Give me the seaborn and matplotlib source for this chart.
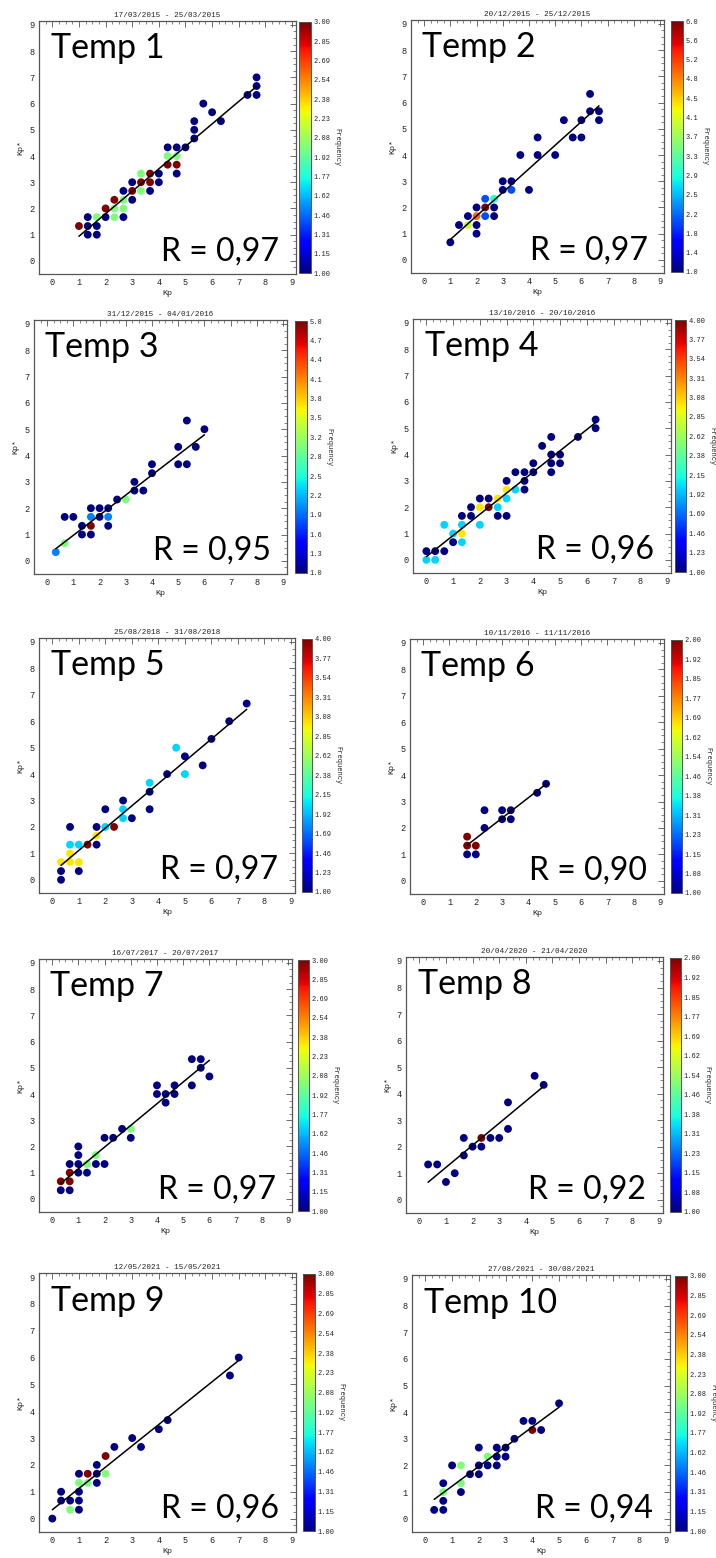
import numpy as np
import pandas as pd
import matplotlib
matplotlib.use("Agg")
import matplotlib.pyplot as plt
import seaborn as sns
from matplotlib.ticker import MultipleLocator
from matplotlib.colors import Normalize
from matplotlib.cm import ScalarMappable

sns.set_theme(style="white")
plt.rcParams["font.family"] = ["Liberation Mono", "DejaVu Sans"]

# ---- Kp vs Kp* per storm period (value, value, occurrence count) ----
t1_kp = [1.0, 1.33, 1.33, 1.33, 1.67, 1.67, 1.67, 2.0, 2.0, 2.33, 2.33, 2.33,
         2.67, 2.67, 2.67, 2.67, 3.0, 3.0, 3.0, 3.33, 3.33, 3.33, 3.67, 3.67, 3.67,
         4.0, 4.0, 4.33, 4.33, 4.33, 4.67, 4.67, 4.67, 4.67, 5.0, 5.33, 5.33, 5.33,
         5.67, 6.0, 6.33, 7.33, 7.67, 7.67, 7.67]
t1_kps = [1.33, 1.67, 1.33, 1.0, 1.67, 1.33, 1.0, 2.0, 1.67, 2.33, 2.0, 1.67,
          2.67, 2.33, 2.0, 1.67, 3.0, 2.67, 2.33, 3.33, 3.0, 2.67, 3.33, 3.0, 2.67,
          3.33, 3.0, 4.33, 4.0, 3.67, 4.33, 4.0, 3.67, 3.33, 4.33, 5.33, 5.0, 4.67,
          6.0, 5.67, 5.33, 6.33, 7.0, 6.67, 6.33]
t1_freq = [3, 1, 1, 1, 2, 1, 1, 3, 1, 3, 2, 2,
           1, 2, 2, 1, 1, 3, 1, 2, 3, 2, 3, 3, 1,
           1, 1, 1, 2, 3, 1, 2, 3, 1, 1, 1, 1, 1,
           1, 1, 1, 1, 1, 1, 1]

t2_kp = [1.0, 1.33, 1.67, 1.67, 2.0, 2.0, 2.0, 2.0, 2.33, 2.33, 2.33, 2.67, 2.67, 2.67,
         3.0, 3.0, 3.33, 3.33, 3.67, 4.0, 4.33, 4.33, 5.0, 5.33, 5.67, 6.0, 6.0,
         6.33, 6.33, 6.67, 6.67]
t2_kps = [0.67, 1.33, 1.67, 1.33, 2.0, 1.67, 1.33, 1.0, 2.33, 2.0, 1.67, 2.33, 2.0, 1.67,
          3.0, 2.67, 3.0, 2.67, 4.0, 2.67, 4.67, 4.0, 4.0, 5.33, 4.67, 5.33, 4.67,
          6.33, 5.67, 5.67, 5.33]
t2_freq = [1, 1, 1, 4, 1, 5, 1, 1, 2, 6, 2, 3, 1, 1,
           1, 1, 1, 2, 1, 1, 1, 1, 1, 1, 1, 1, 1,
           1, 1, 1, 1]

t3_kp = [0.33, 0.67, 0.67, 1.0, 1.33, 1.33, 1.67, 1.67, 1.67, 1.67, 2.0, 2.0,
         2.33, 2.33, 2.33, 2.67, 3.0, 3.33, 3.33, 3.67, 4.0, 4.0, 5.0, 5.0,
         5.33, 5.33, 5.67, 6.0]
t3_kps = [0.33, 0.67, 1.67, 1.67, 1.33, 1.0, 2.0, 1.67, 1.33, 1.0, 2.0, 1.67,
          2.0, 1.67, 1.33, 2.33, 2.33, 3.0, 2.67, 2.67, 3.67, 3.33, 4.33, 3.67,
          5.33, 3.67, 4.33, 5.0]
t3_freq = [2, 3, 1, 1, 1, 1, 1, 2, 5, 1, 1, 1,
           1, 2, 1, 1, 3, 1, 1, 1, 1, 1, 1, 1,
           1, 1, 1, 1]

t4_kp = [0.0, 0.0, 0.33, 0.33, 0.67, 0.67, 1.0, 1.0, 1.33, 1.33, 1.33, 1.33,
         1.67, 1.67, 2.0, 2.0, 2.0, 2.33, 2.33, 2.67, 2.67, 2.67, 3.0, 3.0, 3.0, 3.0,
         3.33, 3.33, 3.67, 3.67, 3.67, 4.0, 4.0, 4.33, 4.67, 4.67, 4.67, 4.67,
         5.0, 5.0, 5.67, 6.33, 6.33]
t4_kps = [0.33, 0.0, 0.33, 0.0, 1.33, 0.33, 1.0, 0.67, 1.67, 1.33, 1.0, 0.67,
          2.0, 1.67, 2.33, 2.0, 1.33, 2.33, 2.0, 2.33, 2.0, 1.67, 3.0, 2.67, 2.33, 1.67,
          3.33, 2.67, 3.33, 3.0, 2.67, 3.67, 3.33, 4.33, 4.67, 4.0, 3.67, 3.33,
          4.0, 3.67, 4.67, 5.33, 5.0]
t4_freq = [1, 2, 1, 2, 2, 1, 2, 1, 1, 2, 3, 2,
           1, 1, 1, 3, 2, 1, 4, 3, 2, 1, 1, 3, 2, 1,
           1, 2, 1, 1, 1, 1, 1, 1, 1, 1, 1, 1,
           1, 1, 1, 1, 1]

t5_kp = [0.33, 0.33, 0.33, 0.67, 0.67, 0.67, 0.67, 1.0, 1.0, 1.0, 1.33,
         1.67, 1.67, 1.67, 2.0, 2.0, 2.33, 2.67, 2.67, 2.67, 3.0,
         3.67, 3.67, 3.67, 4.33, 4.67, 5.0, 5.0, 5.67, 6.0, 6.67, 7.33]
t5_kps = [0.0, 0.33, 0.67, 2.0, 1.33, 1.0, 0.67, 1.33, 0.67, 0.33, 1.33,
          2.0, 1.67, 1.33, 2.67, 2.0, 2.0, 3.0, 2.67, 2.33, 2.33,
          3.67, 3.33, 2.67, 4.0, 5.0, 4.67, 4.0, 4.33, 5.33, 6.0, 6.67]
t5_freq = [1, 1, 3, 1, 2, 3, 3, 2, 3, 1, 4,
           1, 3, 1, 1, 2, 4, 1, 2, 2, 1,
           2, 1, 1, 1, 2, 1, 2, 1, 1, 1, 1]

t6_kp = [1.67, 1.67, 1.67, 2.0, 2.0, 2.33, 2.33, 3.0, 3.0, 3.33, 3.33, 4.33, 4.67]
t6_kps = [1.67, 1.33, 1.0, 1.33, 1.0, 2.67, 2.0, 2.67, 2.33, 2.67, 2.33, 3.33, 3.67]
t6_freq = [2, 2, 1, 2, 1, 1, 1, 1, 1, 1, 1, 1, 1]

t7_kp = [0.33, 0.33, 0.67, 0.67, 0.67, 0.67, 1.0, 1.0, 1.0, 1.0, 1.33, 1.33,
         1.67, 1.67, 2.0, 2.0, 2.33, 2.67, 3.0, 3.0, 4.0, 4.0, 4.33, 4.33,
         4.67, 4.67, 5.33, 5.33, 5.67, 5.67, 6.0]
t7_kps = [0.67, 0.33, 1.33, 1.0, 0.67, 0.33, 2.0, 1.67, 1.33, 1.0, 1.33, 1.0,
          1.67, 1.33, 2.33, 1.33, 2.33, 2.67, 2.67, 2.33, 4.33, 4.0, 4.0, 3.67,
          4.33, 4.0, 5.33, 4.33, 5.33, 5.0, 4.67]
t7_freq = [3, 1, 1, 3, 3, 1, 1, 1, 1, 1, 2, 1,
           2, 1, 1, 1, 1, 1, 2, 1, 1, 1, 1, 1,
           1, 1, 1, 1, 1, 1, 1]

t8_kp = [0.33, 0.67, 1.0, 1.33, 1.67, 1.67, 2.0, 2.33, 2.33, 2.67, 3.0, 3.33, 3.33, 4.33, 4.67]
t8_kps = [1.33, 1.33, 0.67, 1.0, 2.33, 1.67, 2.0, 2.33, 2.0, 2.33, 2.33, 3.67, 2.67, 4.67, 4.33]
t8_freq = [1, 1, 1, 1, 1, 1, 1, 2, 1, 1, 1, 1, 1, 1, 1]

t9_kp = [0.0, 0.33, 0.33, 0.67, 0.67, 1.0, 1.0, 1.0, 1.0, 1.0, 1.33, 1.33,
         1.67, 1.67, 1.67, 2.0, 2.0, 2.33, 3.0, 3.33, 4.0, 4.33, 6.67, 7.0]
t9_kps = [0.0, 1.0, 0.67, 0.67, 0.33, 1.67, 1.33, 1.0, 0.67, 0.33, 1.67, 1.33,
          2.0, 1.67, 1.33, 2.33, 1.67, 2.67, 3.0, 2.67, 3.33, 3.67, 5.33, 6.0]
t9_freq = [1, 1, 1, 1, 2, 1, 2, 1, 1, 1, 3, 2,
           1, 1, 1, 3, 2, 1, 1, 1, 1, 1, 1, 1]

t10_kp = [0.33, 0.67, 0.67, 0.67, 0.67, 1.0, 1.33, 1.33, 1.33, 1.67, 2.0, 2.0, 2.0,
          2.33, 2.33, 2.67, 2.67, 2.67, 3.0, 3.0, 3.33, 3.67, 4.0, 4.0, 4.33, 5.0]
t10_kps = [0.33, 1.33, 1.0, 0.67, 0.33, 2.0, 2.0, 1.33, 1.0, 1.67, 2.67, 2.0, 1.67,
           2.33, 2.0, 2.67, 2.33, 2.0, 2.67, 2.33, 3.0, 3.67, 3.67, 3.33, 3.33, 4.33]
t10_freq = [1, 1, 2, 1, 1, 1, 2, 2, 1, 1, 1, 1, 1,
            2, 1, 1, 1, 1, 1, 1, 1, 1, 1, 3, 1, 1]

periods = ["17/03/2015 - 25/03/2015", "20/12/2015 - 25/12/2015",
           "31/12/2015 - 04/01/2016", "13/10/2016 - 20/10/2016",
           "25/08/2018 - 31/08/2018", "10/11/2016 - 11/11/2016",
           "16/07/2017 - 20/07/2017", "20/04/2020 - 21/04/2020",
           "12/05/2021 - 15/05/2021", "27/08/2021 - 30/08/2021"]
panel_names = ["Temp 1", "Temp 2", "Temp 3", "Temp 4", "Temp 5",
               "Temp 6", "Temp 7", "Temp 8", "Temp 9", "Temp 10"]
r_labels = ["0,97", "0,97", "0,95", "0,96", "0,97",
            "0,90", "0,97", "0,92", "0,96", "0,94"]

kp_sets = [t1_kp, t2_kp, t3_kp, t4_kp, t5_kp, t6_kp, t7_kp, t8_kp, t9_kp, t10_kp]
kps_sets = [t1_kps, t2_kps, t3_kps, t4_kps, t5_kps, t6_kps, t7_kps, t8_kps, t9_kps, t10_kps]
freq_sets = [t1_freq, t2_freq, t3_freq, t4_freq, t5_freq, t6_freq, t7_freq, t8_freq,
             t9_freq, t10_freq]

# ---- layout (pixel boxes: left, top, right, bottom) ----
W, H = 716, 1558
fig = plt.figure(figsize=(W / 100, H / 100), dpi=100)
fig.patch.set_facecolor("white")


def box(l, t, r, b):
    return [l / W, 1 - b / H, (r - l) / W, (b - t) / H]


axes_px = [(39, 21, 296, 274), (411, 20, 664, 273),
           (34, 320, 287, 574), (413, 319, 671, 573),
           (39, 638, 295, 893), (410, 639, 664, 894),
           (39, 959, 292, 1212), (406, 957, 663, 1213),
           (39, 1273, 296, 1532), (412, 1275, 670, 1532)]
cbar_px = [(299, 22, 311, 273), (671, 21, 683, 272),
           (295, 321, 307, 573), (675, 320, 686, 572),
           (302, 639, 312, 892), (671, 640, 682, 893),
           (298, 960, 309, 1211), (670, 958, 681, 1212),
           (303, 1274, 315, 1531), (675, 1276, 687, 1531)]

cmap = matplotlib.colormaps["jet"]
frame_col = "#555555"
text_col = "#222222"

for i in range(10):
    kp = np.array(kp_sets[i])
    kps = np.array(kps_sets[i])
    fr = np.array(freq_sets[i])
    vmax = fr.max()
    norm = Normalize(1, vmax)

    ax = fig.add_axes(box(*axes_px[i]))
    cax = fig.add_axes(box(*cbar_px[i]))

    df = pd.DataFrame({"Kp": kp, "Kp*": kps, "Frequency": fr})
    sns.scatterplot(data=df, x="Kp", y="Kp*", hue="Frequency", palette=cmap,
                    hue_norm=norm, s=32, linewidth=0, legend=False, ax=ax,
                    zorder=2)
    # least-squares line through every occurrence
    sns.regplot(x=np.repeat(kp, fr), y=np.repeat(kps, fr), scatter=False,
                ci=None, truncate=True, ax=ax,
                line_kws=dict(color="black", lw=1.1, zorder=3))

    ax.set_xlim(-0.5, 9.15)
    ax.set_ylim(-0.5, 9.15)
    ax.set_xticks(range(10))
    ax.set_yticks(range(10))
    ax.xaxis.set_minor_locator(MultipleLocator(0.25))
    ax.yaxis.set_minor_locator(MultipleLocator(0.25))
    ax.tick_params(which="both", direction="in", top=True, right=True,
                   colors=frame_col, labelcolor=text_col, labelsize=6.2, pad=3)
    ax.tick_params(which="major", length=4, width=0.6)
    ax.tick_params(which="minor", length=2, width=0.5)
    for sp in ax.spines.values():
        sp.set_color(frame_col)
        sp.set_linewidth(0.9)
    ax.set_xlabel("Kp", fontsize=6, color=text_col, labelpad=2)
    ax.set_ylabel("Kp*", fontsize=6, color=text_col, labelpad=4)
    ax.set_title(periods[i], fontsize=5.5, color=text_col, pad=3)

    ax.text(0.045, 0.854, panel_names[i], transform=ax.transAxes,
            fontsize=24.5, family="Lato", ha="left", va="baseline", color="black",
            zorder=5)
    ax.text(0.935, 0.055, f"R = {r_labels[i]}", transform=ax.transAxes,
            fontsize=23, family="Lato", ha="right", va="baseline", color="black",
            zorder=5)

    cb = fig.colorbar(ScalarMappable(norm=norm, cmap=cmap), cax=cax)
    ticks = np.linspace(1, vmax, 14)
    cb.set_ticks(ticks)
    fmt = "{:.1f}" if vmax >= 5 else "{:.2f}"
    cb.set_ticklabels([fmt.format(t) for t in ticks])
    cax.tick_params(labelsize=5, length=2, width=0.5, direction="in",
                    colors=frame_col, labelcolor=text_col, pad=2)
    cb.outline.set_linewidth(0.7)
    cb.outline.set_edgecolor(frame_col)
    cb.set_label("Frequency", rotation=270, fontsize=5, color=text_col,
                 labelpad=7)

fig.savefig("out.png", dpi=100, facecolor="white")
